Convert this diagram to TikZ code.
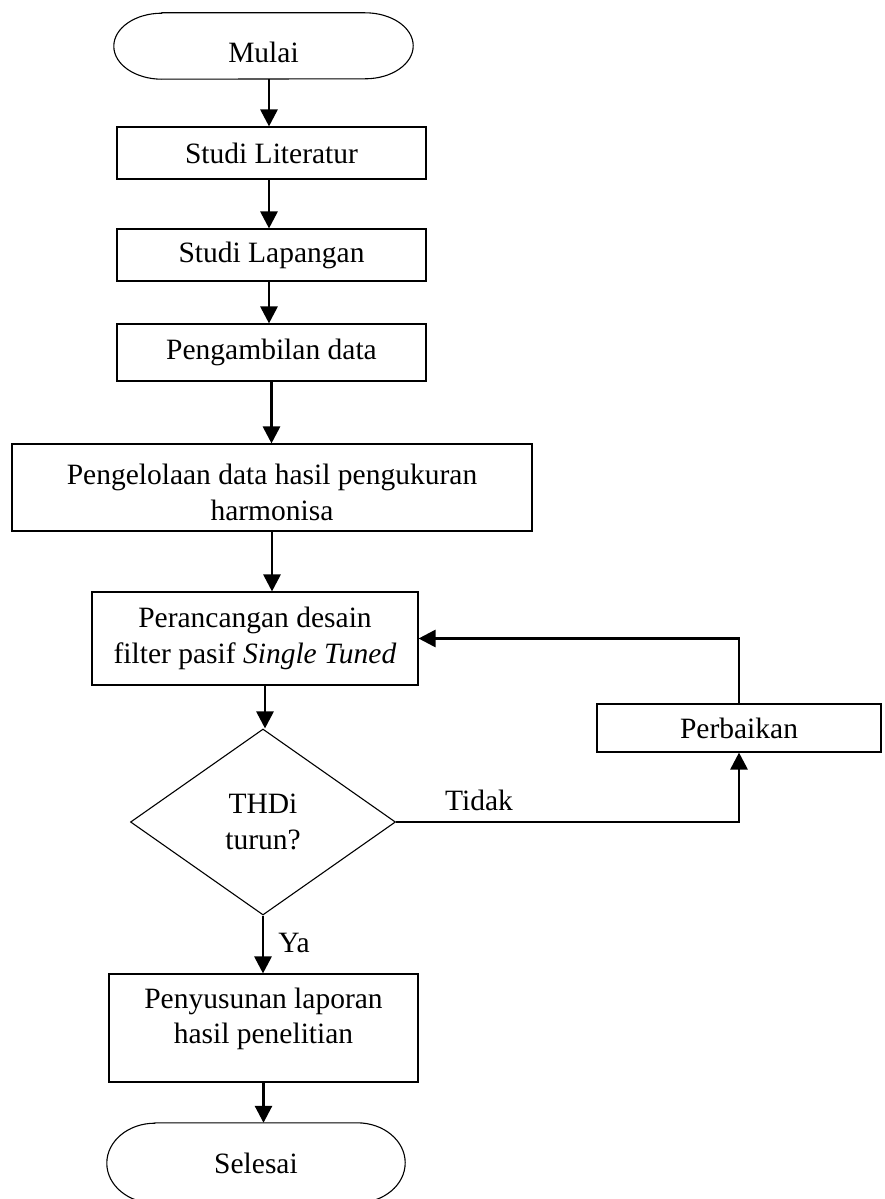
\documentclass[tikz,border=0pt]{standalone}
\usepackage{fontspec}
\setmainfont{Liberation Serif}
\usetikzlibrary{arrows.meta,shapes.geometric}
\begin{document}
\begin{tikzpicture}[x=1pt,y=-1pt,
  every node/.style={font=\fontsize{29.5}{35.5}\selectfont, align=center, inner sep=0pt},
  box/.style={draw, line width=1.1pt, rectangle},
  term/.style={rectangle, draw=none},
  dec/.style={draw, line width=1.1pt, diamond},
  outline/.style={line width=1.1pt},
  arr/.style={line width=2.8pt, -{Triangle[width=17pt,length=17pt]}}
]
\useasboundingbox (0,0) rectangle (884,1199);

% nodes
\node[term, minimum width=299pt, minimum height=66pt,
  label={[name=mulaitxt, yshift=-6pt]center:Mulai}] (mulai) at (263.5,46) {};
\node[box, minimum width=309pt, minimum height=52pt] (lit) at (271.5,153) {Studi Literatur};
\node[box, minimum width=309pt, minimum height=52pt] (lap) at (271.5,255) {Studi Lapangan};
\node[box, minimum width=309pt, minimum height=57pt] (amb) at (271.5,352.5) {Pengambilan data};
\node[box, minimum width=520pt, minimum height=87pt,
  label={[name=pengtxt, yshift=-5pt]center:{Pengelolaan data hasil pengukuran\\harmonisa}}] (peng) at (272,487.5) {};
\node[box, minimum width=326pt, minimum height=93pt] (peran) at (255,638.5) {Perancangan desain\\filter pasif \textit{Single Tuned}};
\node[dec, minimum width=265pt, minimum height=186pt] (cek) at (263,822) {THDi\\turun?};
\node[box, minimum width=284pt, minimum height=48pt] (perb) at (739,728) {Perbaikan};
\node[box, minimum width=309pt, minimum height=108pt,
  label={[name=penytxt, yshift=9pt]center:{Penyusunan laporan\\hasil penelitian}}] (peny) at (263.5,1028) {};
\node[term, minimum width=298pt, minimum height=80pt] (sel) at (256,1163) {Selesai};
\node (tidak) at (479,800) {Tidak};
\node (ya) at (294,943) {Ya};

% terminal outlines
\draw[outline] ([xshift=48pt]mulai.north west) -- ([xshift=-48pt]mulai.north east)
  arc[start angle=90,end angle=-90,x radius=48pt,y radius=33pt]
  -- ([xshift=48pt]mulai.south west)
  arc[start angle=270,end angle=90,x radius=48pt,y radius=33pt] -- cycle;
\draw[outline] ([xshift=48pt]sel.north west) -- ([xshift=-48pt]sel.north east)
  arc[start angle=90,end angle=-90,x radius=48pt,y radius=40pt]
  -- ([xshift=48pt]sel.south west)
  arc[start angle=270,end angle=90,x radius=48pt,y radius=40pt] -- cycle;

% connectors
\draw[arr] ([xshift=-2.5pt]lit.north |- mulai.south) -- ([xshift=-2.5pt]lit.north);
\draw[arr] ([xshift=-2.5pt]lit.south) -- ([xshift=-2.5pt]lap.north);
\draw[arr] ([xshift=-2.5pt]lap.south) -- ([xshift=-2.5pt]amb.north);
\draw[arr] (amb.south) -- (amb.south |- peng.north);
\draw[arr] (peng.south) -- (peng.south |- peran.north);
\draw[arr] ([xshift=2pt]cek.north |- peran.south) -- ([xshift=2pt]cek.north);
\draw[arr] (cek.south) -- (cek.south |- peny.north);
\draw[arr] (peny.south) -- (peny.south |- sel.north);
\draw[arr] (cek.east) -| (perb.south);
\draw[arr] (perb.north) |- (peran.east);
\end{tikzpicture}
\end{document}
